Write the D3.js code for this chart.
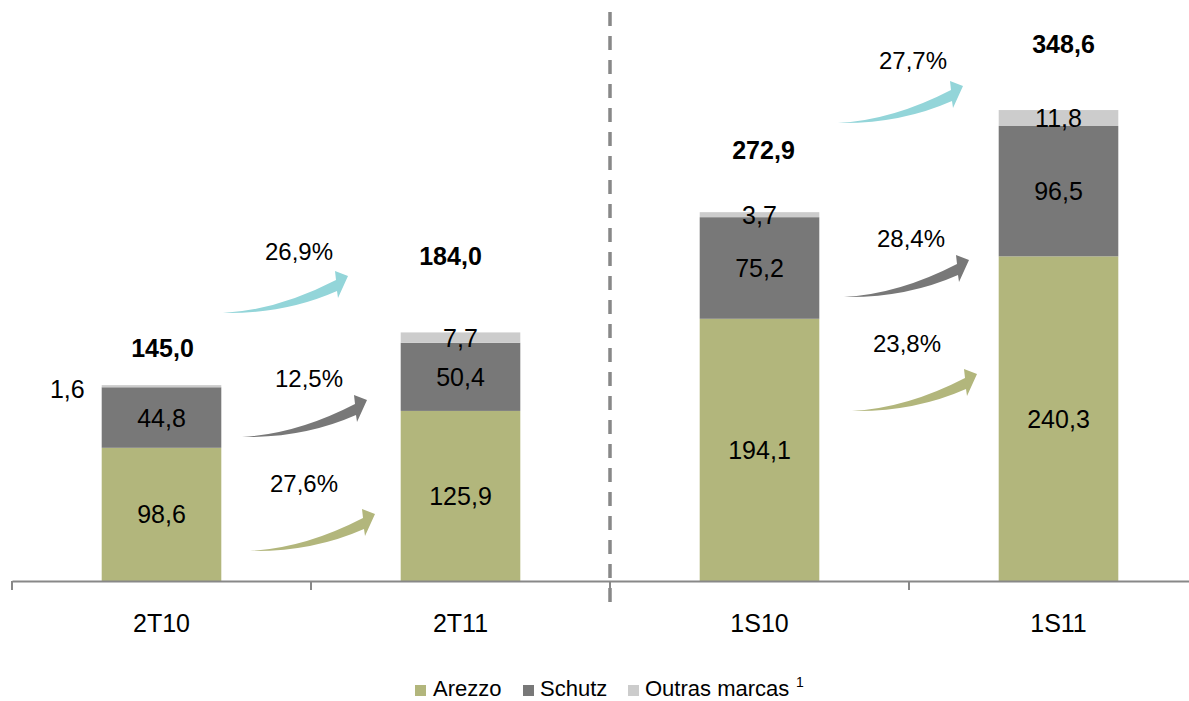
<!DOCTYPE html>
<html>
<head>
<meta charset="utf-8">
<script src="https://cdn.jsdelivr.net/npm/d3@7/dist/d3.min.js"></script>
<style>
  html, body { margin: 0; padding: 0; background: #fff; }
  svg { display: block; font-family: "Liberation Sans", Arial, sans-serif; }
</style>
</head>
<body>
<svg id="chart" width="1189" height="701"></svg>
<script>
// ---- DATA ----
const categories = ["2T10", "2T11", "1S10", "1S11"];
const seriesNames = ["Arezzo", "Schutz", "Outras marcas"];
const arezzo = [98.6, 125.9, 194.1, 240.3];
const schutz = [44.8, 50.4, 75.2, 96.5];
const outras = [1.6, 7.7, 3.7, 11.8];
const totals = [145.0, 184.0, 272.9, 348.6];
const growthTotal = ["26,9%", "27,7%"];
const growthSchutz = ["12,5%", "28,4%"];
const growthArezzo = ["27,6%", "23,8%"];

// ---- LAYOUT / STYLE ----
const W = 1189, H = 701;
const colors = { "Arezzo": "#B2B67C", "Schutz": "#787878", "Outras marcas": "#CCCCCC" };
const arrowColors = { total: "#93D5D9", schutz: "#787878", arezzo: "#B2B67C" };
const baseY = 581;
const pxPerUnit = 1.351;
const fontVal = 25, fontPct = 24, fontLegend = 22;

const svg = d3.select("#chart");
svg.append("rect").attr("width", W).attr("height", H).attr("fill", "#fff");

const x = d3.scaleBand().domain(categories).range([12, 1208]).padding(0);
const y = d3.scaleLinear().domain([0, 400]).range([baseY, baseY - 400 * pxPerUnit]);
const barW = x.bandwidth() * 0.4;
const barX = c => x(c) + (x.bandwidth() - barW) / 2;
const fmt = v => d3.format(".1f")(v).replace(".", ",");

// stacked data
const rows = categories.map((c, i) => ({ cat: c, "Arezzo": arezzo[i], "Schutz": schutz[i], "Outras marcas": outras[i] }));
const stack = d3.stack().keys(seriesNames)(rows);

// dashed separator
svg.append("line")
  .attr("x1", x(categories[2])).attr("x2", x(categories[2]))
  .attr("y1", 12).attr("y2", 602)
  .attr("stroke", "#888").attr("stroke-width", 3.5)
  .attr("stroke-dasharray", "14,10");

// bars
const g = svg.append("g");
stack.forEach(layer => {
  g.selectAll(null).data(layer).enter().append("rect")
    .attr("x", d => barX(d.data.cat))
    .attr("width", barW)
    .attr("y", d => y(d[1]))
    .attr("height", d => y(d[0]) - y(d[1]))
    .attr("fill", colors[layer.key]);
});

// axis
const axis = d3.axisBottom(x).tickSize(0).tickPadding(0).tickSizeOuter(0);
const ax = svg.append("g").attr("transform", `translate(0,${baseY})`).call(axis);
ax.select(".domain").attr("stroke", "#888").attr("stroke-width", 2);
ax.selectAll("text").attr("y", 51).attr("dy", 0)
  .attr("font-size", fontVal).attr("fill", "#000")
  .attr("font-family", '"Liberation Sans", Arial, sans-serif');
// boundary ticks
const bounds = categories.map(c => x(c)).concat([x(categories[3]) + x.bandwidth()]);
ax.selectAll(".bt").data(bounds).enter().append("line")
  .attr("x1", d => d).attr("x2", d => d).attr("y1", 0).attr("y2", 9)
  .attr("stroke", "#888").attr("stroke-width", 2);

// segment labels
stack.forEach(layer => {
  layer.forEach((d, i) => {
    const v = d[1] - d[0];
    let cx = barX(d.data.cat) + barW / 2;
    let cy = (y(d[0]) + y(d[1])) / 2;
    let anchor = "middle";
    if (layer.key === "Outras marcas" && i === 0) {
      // small value placed left of the bar
      cx = barX(d.data.cat) - 17; anchor = "end"; cy = y(d[1]) + 4;
    }
    svg.append("text")
      .attr("x", cx).attr("y", cy).attr("dy", "0.36em")
      .attr("text-anchor", anchor)
      .attr("font-size", fontVal).attr("fill", "#000")
      .text(fmt(v));
  });
});

// total labels (bold)
const totalLabelPos = [{ dx: 1, by: 357 }, { dx: -10, by: 265 }, { dx: 4, by: 159 }, { dx: 5, by: 53 }];
totals.forEach((t, i) => {
  const c = categories[i];
  svg.append("text")
    .attr("x", barX(c) + barW / 2 + totalLabelPos[i].dx)
    .attr("y", totalLabelPos[i].by)
    .attr("text-anchor", "middle")
    .attr("font-size", fontVal).attr("font-weight", "bold").attr("fill", "#000")
    .text(fmt(t));
});

// curved growth arrows
function arrowPath() {
  // local coordinates, tail at (0,0)
  return "M0,0 Q55,-3 113,-33 L112,-42 L125,-37 L115,-15 L114,-22 Q62,1 0,0 Z";
}
const arrowLayout = [
  { kind: "total", tx: 223, ty: 313, label: growthTotal[0], lx: 76, ly: -53 },
  { kind: "schutz", tx: 242, ty: 437, label: growthSchutz[0], lx: 67, ly: -50 },
  { kind: "arezzo", tx: 250, ty: 551, label: growthArezzo[0], lx: 54, ly: -59 },
  { kind: "total", tx: 838, ty: 123, label: growthTotal[1], lx: 75, ly: -54 },
  { kind: "schutz", tx: 844, ty: 297, label: growthSchutz[1], lx: 67, ly: -50 },
  { kind: "arezzo", tx: 852, ty: 411, label: growthArezzo[1], lx: 55, ly: -59 }
];
arrowLayout.forEach(a => {
  svg.append("path")
    .attr("d", arrowPath())
    .attr("transform", `translate(${a.tx},${a.ty})`)
    .attr("fill", arrowColors[a.kind]);
  svg.append("text")
    .attr("x", a.tx + a.lx).attr("y", a.ty + a.ly)
    .attr("text-anchor", "middle")
    .attr("font-size", fontPct).attr("fill", "#000")
    .text(a.label);
});

// legend
const legendPos = [{ sx: 415, tx: 433 }, { sx: 523, tx: 540 }, { sx: 628, tx: 645 }];
seriesNames.forEach((s, i) => {
  svg.append("rect").attr("x", legendPos[i].sx).attr("y", 685).attr("width", 11).attr("height", 11)
    .attr("fill", colors[s]);
  svg.append("text").attr("x", legendPos[i].tx).attr("y", 695.5)
    .attr("font-size", fontLegend).attr("fill", "#000").text(s);
});
svg.append("text").attr("x", 796).attr("y", 687).attr("font-size", 14).attr("fill", "#000").text("1");
</script>
</body>
</html>
